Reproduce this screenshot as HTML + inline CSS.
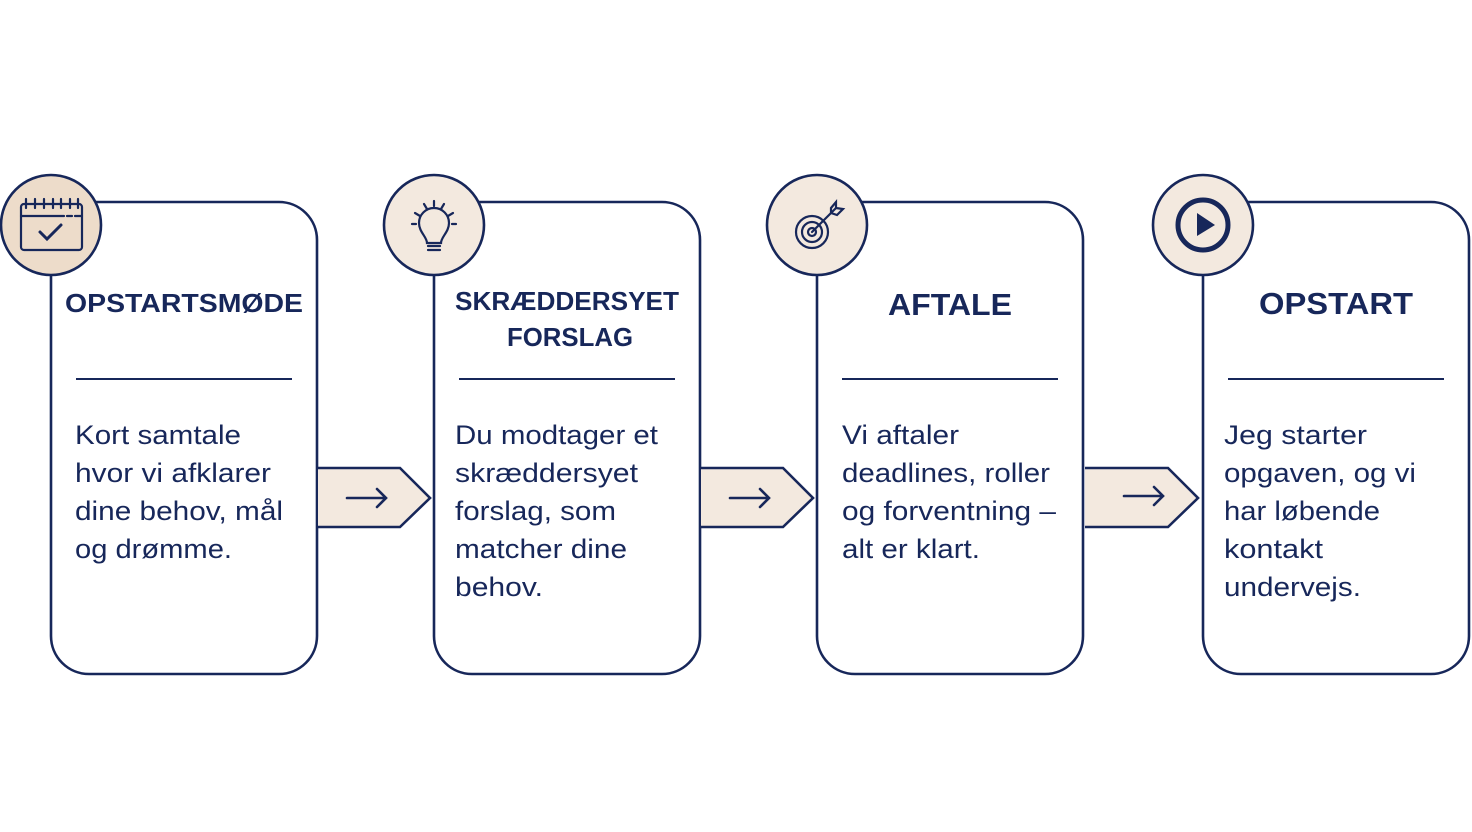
<!DOCTYPE html>
<html><head><meta charset="utf-8"><style>
html,body{margin:0;padding:0;background:#fff;}
svg{display:block;}
text{font-family:"Liberation Sans",sans-serif;fill:#17275a;}
.b{font-size:27px;}
.t{font-weight:bold;}
</style></head><body>
<svg width="1472" height="832" viewBox="0 0 1472 832" xmlns="http://www.w3.org/2000/svg">
<g fill="none" stroke="#17275a" stroke-width="2.6">
  <path d="M51 225 V636 a38 38 0 0 0 38 38 H279 a38 38 0 0 0 38 -38 V240 a38 38 0 0 0 -38 -38 H96"/>
  <path d="M434 225 V636 a38 38 0 0 0 38 38 H662 a38 38 0 0 0 38 -38 V240 a38 38 0 0 0 -38 -38 H479"/>
  <path d="M817 225 V636 a38 38 0 0 0 38 38 H1045 a38 38 0 0 0 38 -38 V240 a38 38 0 0 0 -38 -38 H862"/>
  <path d="M1203 225 V636 a38 38 0 0 0 38 38 H1431 a38 38 0 0 0 38 -38 V240 a38 38 0 0 0 -38 -38 H1248"/>
</g>
<g fill="#f3e9df" stroke="#17275a" stroke-width="2.6" stroke-linejoin="miter">
  <path d="M318 468 H400 L430 498 L400 527 H318"/>
  <path d="M701 468 H783 L813 498 L783 527 H701"/>
  <path d="M1085 468 H1168 L1198 498 L1168 527 H1085"/>
</g>
<g fill="none" stroke="#17275a" stroke-width="2.6" stroke-linecap="round">
  <path d="M347 498 H386 M377 489 L386 498 L377 507"/>
  <path d="M730 498 H769 M760 489 L769 498 L760 507"/>
  <path d="M1124 496 H1163 M1154 487 L1163 496 L1154 505"/>
</g>
<g stroke="#17275a" stroke-width="2.6">
  <circle cx="51" cy="225" r="50" fill="#eddcca"/>
  <circle cx="434" cy="225" r="50" fill="#f3e9df"/>
  <circle cx="817" cy="225" r="50" fill="#f3e9df"/>
  <circle cx="1203" cy="225" r="50" fill="#f3e9df"/>
</g>
<g fill="none" stroke="#17275a" stroke-width="2.2" stroke-linecap="round">
  <rect x="21" y="204" width="61" height="46" rx="3"/>
  <path d="M21 216 H64 M67 216 H72 M75 216 H82"/>
  <path d="M26 199 V208 M35 199 V208 M44 199 V208 M53 199 V208 M61 199 V208 M70 199 V208 M78 199 V208"/>
  <path d="M40 232 L47 239 L61 225" stroke-width="3"/>
</g>
<g fill="none" stroke="#17275a" stroke-width="2.2" stroke-linecap="round">
  <path d="M427 243 C427 237 419 232 419 223 A15 15 0 0 1 449 223 C449 232 441 237 441 243 Z"/>
  <path d="M428 246 H440 M428 250 H440"/>
  <path d="M434 201 V206 M424 204 L427 209 M444 204 L441 209 M415 213 L420 216 M453 213 L448 216 M412 224 H416 M452 224 H456"/>
</g>
<g fill="none" stroke="#17275a" stroke-width="2.2" stroke-linecap="round">
  <circle cx="812" cy="232" r="16"/>
  <circle cx="812" cy="232" r="10"/>
  <circle cx="812" cy="232" r="4"/>
  <path d="M812 232 L836 208"/>
  <path d="M831 208 L836 202 L836 208 L843 209 L837 215 L831 213 Z"/>
</g>
<circle cx="1203" cy="225" r="25" fill="none" stroke="#17275a" stroke-width="5"/>
<path d="M1197 213 L1215 225 L1197 236 Z" fill="#17275a"/>
<g stroke="#17275a" stroke-width="2">
  <path d="M76 379 H292 M459 379 H675 M842 379 H1058 M1228 379 H1444"/>
</g>
<text class="t" x="65" y="312" font-size="26" textLength="238" lengthAdjust="spacingAndGlyphs">OPSTARTSMØDE</text>
<text class="t" x="455" y="310" font-size="26" textLength="224" lengthAdjust="spacingAndGlyphs">SKRÆDDERSYET</text>
<text class="t" x="507" y="346" font-size="26" textLength="126" lengthAdjust="spacingAndGlyphs">FORSLAG</text>
<text class="t" x="888" y="315" font-size="31" textLength="124" lengthAdjust="spacingAndGlyphs">AFTALE</text>
<text class="t" x="1259" y="314" font-size="31" textLength="154" lengthAdjust="spacingAndGlyphs">OPSTART</text>
<g class="b">
<text x="75" y="444" textLength="166" lengthAdjust="spacingAndGlyphs">Kort samtale</text>
<text x="75" y="482" textLength="196" lengthAdjust="spacingAndGlyphs">hvor vi afklarer</text>
<text x="75" y="520" textLength="208" lengthAdjust="spacingAndGlyphs">dine behov, mål</text>
<text x="75" y="558" textLength="157" lengthAdjust="spacingAndGlyphs">og drømme.</text>

<text x="455" y="444" textLength="203" lengthAdjust="spacingAndGlyphs">Du modtager et</text>
<text x="455" y="482" textLength="183" lengthAdjust="spacingAndGlyphs">skræddersyet</text>
<text x="455" y="520" textLength="161" lengthAdjust="spacingAndGlyphs">forslag, som</text>
<text x="455" y="558" textLength="172" lengthAdjust="spacingAndGlyphs">matcher dine</text>
<text x="455" y="596" textLength="88" lengthAdjust="spacingAndGlyphs">behov.</text>

<text x="842" y="444" textLength="117" lengthAdjust="spacingAndGlyphs">Vi aftaler</text>
<text x="842" y="482" textLength="208" lengthAdjust="spacingAndGlyphs">deadlines, roller</text>
<text x="842" y="520" textLength="214" lengthAdjust="spacingAndGlyphs">og forventning –</text>
<text x="842" y="558" textLength="138" lengthAdjust="spacingAndGlyphs">alt er klart.</text>

<text x="1224" y="444" textLength="143" lengthAdjust="spacingAndGlyphs">Jeg starter</text>
<text x="1224" y="482" textLength="192" lengthAdjust="spacingAndGlyphs">opgaven, og vi</text>
<text x="1224" y="520" textLength="156" lengthAdjust="spacingAndGlyphs">har løbende</text>
<text x="1224" y="558" textLength="99" lengthAdjust="spacingAndGlyphs">kontakt</text>
<text x="1224" y="596" textLength="137" lengthAdjust="spacingAndGlyphs">undervejs.</text>
</g>
</svg>
</body></html>
